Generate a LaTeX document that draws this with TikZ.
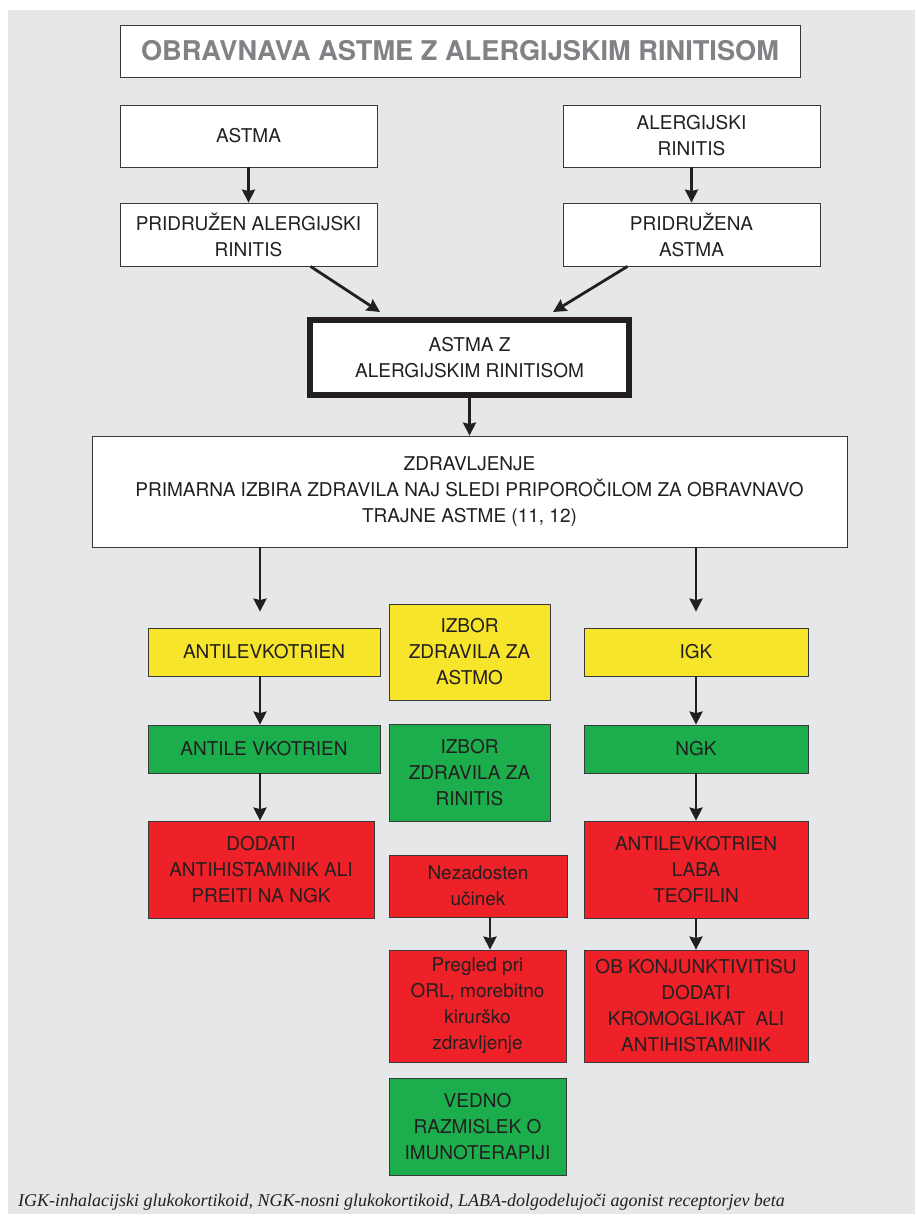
\documentclass[tikz,border=0pt]{standalone}
\usepackage{fontspec}
\setmainfont{TeX Gyre Heros}
\newfontfamily\notefont{Liberation Serif}
\usetikzlibrary{arrows.meta,positioning}
\definecolor{bggrey}{HTML}{E6E7E8}
\definecolor{ink}{HTML}{231F20}
\definecolor{boxline}{HTML}{3A3839}
\definecolor{titlegrey}{HTML}{808285}
\definecolor{medyellow}{HTML}{F6E52B}
\definecolor{medgreen}{HTML}{1CAE4C}
\definecolor{medred}{HTML}{EE2129}

\begin{document}
\begin{tikzpicture}[x=1pt,y=-1pt,
      box/.style={
         rectangle,
         draw=boxline,
         line width=0.8pt,
         inner sep=0pt,
         align=center,
         text=ink,
         font=\fontsize{19}{26}\selectfont
      },
      whitebox/.style={box,fill=white},
      yellowbox/.style={box,fill=medyellow},
      greenbox/.style={box,fill=medgreen},
      redbox/.style={box,fill=medred},
      tip/.style={-{Stealth[length=13pt,width=13pt,inset=1.5pt]},line width=2.8pt,draw=ink},
    ]
    \useasboundingbox (0,0) rectangle (915,1225);
    \fill[bggrey] (8,10) rectangle (915,1214);

    % top part
    \node (title) [whitebox, minimum width=680, minimum height=52,
       font=\fontsize{27.2}{30}\selectfont\bfseries, text=titlegrey] at (460,51)
       {OBRAVNAVA ASTME Z ALERGIJSKIM RINITISOM};
    \node (astma) [whitebox, minimum width=257, minimum height=62] at (248.5,136) {ASTMA};
    \node (rinitis) [whitebox, minimum width=257, minimum height=62] at (691.5,136) {ALERGIJSKI\\RINITIS};
    \node (pridruzen) [whitebox, minimum width=257, minimum height=63] at (248.5,234.5) {PRIDRUŽEN ALERGIJSKI\\RINITIS};
    \node (pridruzena) [whitebox, minimum width=257, minimum height=63] at (691.5,234.5) {PRIDRUŽENA\\ASTMA};
    \node (astmaz) [whitebox, line width=6pt, draw=ink, minimum width=319, minimum height=75] at (469.5,357.5) {ASTMA Z\\ALERGIJSKIM RINITISOM};
    \node (zdr) [whitebox, minimum width=755, minimum height=111] at (469.5,491.5)
       {ZDRAVLJENJE\\PRIMARNA IZBIRA ZDRAVILA NAJ SLEDI PRIPOROČILOM ZA OBRAVNAVO\\TRAJNE ASTME (11, 12)};

    % columns
    \node (antilev) [yellowbox, minimum width=232, minimum height=48] at (264,652) {ANTILEVKOTRIEN};
    \node (izbast) [yellowbox, minimum width=161, minimum height=96] at (469.5,652) {IZBOR\\ZDRAVILA ZA\\ASTMO};
    \node (igk) [yellowbox, minimum width=224, minimum height=48] at (696,652) {IGK};
    \node (antilevr) [greenbox, minimum width=232, minimum height=48] at (264,749) {ANTILE VKOTRIEN};
    \node (izbrin) [greenbox, minimum width=161, minimum height=97] at (469.5,772.5) {IZBOR\\ZDRAVILA ZA\\RINITIS};
    \node (ngk) [greenbox, minimum width=224, minimum height=48] at (696,749) {NGK};
    \node (dodati) [redbox, minimum width=226, minimum height=97] at (261,869.5) {DODATI\\ANTIHISTAMINIK ALI\\PREITI NA NGK};
    \node (laba) [redbox, minimum width=224, minimum height=97] at (696,869.5) {ANTILEVKOTRIEN\\LABA\\TEOFILIN};
    \node (nezad) [redbox, minimum width=178, minimum height=62] at (478,886) {Nezadosten\\učinek};
    \node (pregled) [redbox, minimum width=177, minimum height=112] at (477.5,1006) {Pregled pri\\ORL, morebitno\\kirurško\\zdravljenje};
    \node (konj) [redbox, minimum width=224, minimum height=112] at (696,1006) {OB KONJUNKTIVITISU\\DODATI\\KROMOGLIKAT\ \ ALI\\ANTIHISTAMINIK};
    \node (vedno) [greenbox, minimum width=177, minimum height=97] at (477.5,1126.5) {VEDNO\\RAZMISLEK O\\IMUNOTERAPIJI};

    \node (note) [anchor=base west, inner sep=0pt, text=ink, font=\notefont\itshape\fontsize{18}{20}\selectfont] at (18,1206)
       {IGK-inhalacijski glukokortikoid, NGK-nosni glukokortikoid, LABA-dolgodelujoči agonist receptorjev beta};

    % connectors
    \draw[tip] (astma) -- (pridruzen);
    \draw[tip] (rinitis) -- (pridruzena);
    \draw[tip] ([xshift=62pt]pridruzen.south) -- ([xshift=73pt,yshift=5pt]astmaz.north west);
    \draw[tip] ([xshift=-64pt]pridruzena.south) -- ([xshift=-79pt,yshift=5pt]astmaz.north east);
    \draw[tip] (astmaz) -- (zdr);
    \draw[tip, shorten >=16pt] ([xshift=-4pt]zdr.south -| antilev) -- ([xshift=-4pt]antilev.north);
    \draw[tip, shorten >=16pt] (zdr.south -| igk) -- (igk.north);
    \draw[tip] ([xshift=-4pt]antilev.south) -- ([xshift=-4pt]antilevr.north);
    \draw[tip] ([xshift=-4pt]antilevr.south) -- ([xshift=-4pt]antilevr.south |- dodati.north);
    \draw[tip] (igk) -- (ngk);
    \draw[tip] (ngk) -- (laba);
    \draw[tip] (laba) -- (konj);
    \draw[tip] ([xshift=12pt]nezad.south) -- ([xshift=12pt]nezad.south |- pregled.north);
\end{tikzpicture}
\end{document}
